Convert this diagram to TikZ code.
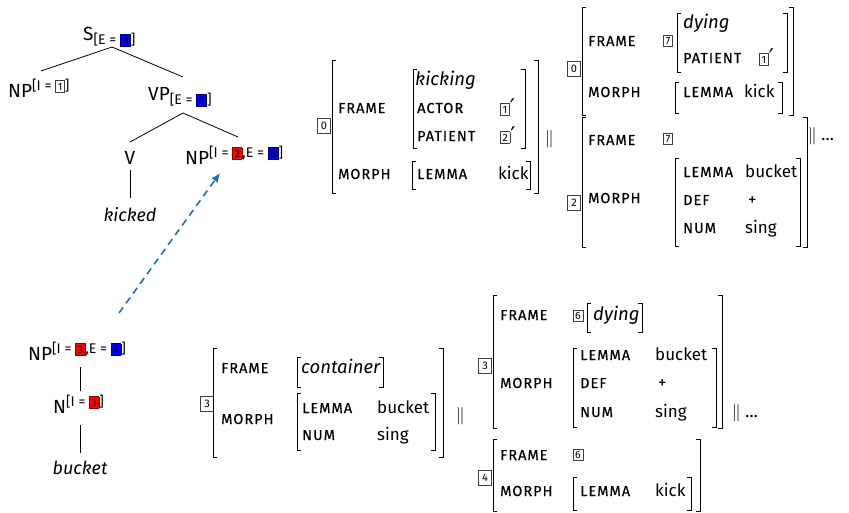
\documentclass[tikz,border=0pt]{standalone}
\usepackage{fontspec}
\setmainfont{Fira Sans}
\newfontfamily\lblfont[LetterSpace=7,FakeBold=0.3]{Fira Sans}
\newfontfamily\symfont{DejaVu Sans}
\usetikzlibrary{arrows.meta}
\setlength\fboxrule{0.7pt}
\newcommand\fs[1]{\fontsize{#1}{#1}\selectfont}
% coindexation tags
\newcommand\tagbx[3]{{\setlength\fboxsep{1.8pt}\fcolorbox{#1}{#2}{\fs{10.5}#3}}}
\newcommand\tg[1]{\tagbx{black!75}{white}{#1}}
\newcommand\rtg[1]{\tagbx{red!55!black}{red}{#1}}
\newcommand\btg[1]{\tagbx{blue!45!black}{blue}{#1}}
\newcommand\prm{\raisebox{-2pt}{\symfont\fs{23}′}}
\newcommand\featsup[1]{\raisebox{7pt}{\fs{14}[#1]}}
\newcommand\featsub[1]{\raisebox{-4pt}{\fs{14}[#1]}}
% AVM brackets: x, top, bottom
\newcommand\lbr[3]{\draw[brk] (#1+4,#2) -- (#1,#2) -- (#1,#3) -- (#1+4,#3);}
\newcommand\rbr[3]{\draw[brk] (#1-4,#2) -- (#1,#2) -- (#1,#3) -- (#1-4,#3);}
\definecolor{arrowblue}{RGB}{30,110,190}
\begin{document}
\begin{tikzpicture}[x=1pt,y=-1pt,
  cat/.style={font=\fs{19}, inner sep=0, anchor=base west},
  catit/.style={font=\fs{18}\itshape, inner sep=0, anchor=base},
  lbl/.style={font=\lblfont\fs{14.5}, inner sep=0, anchor=base west},
  val/.style={font=\fs{17}, inner sep=0, anchor=base west},
  valit/.style={font=\fs{18.5}\itshape, inner sep=0, anchor=base west},
  tagn/.style={draw=black!75, line width=0.7pt, inner sep=0, anchor=center,
    minimum width=12.5pt, minimum height=15pt, font=\fs{11}},
  tagv/.style={inner sep=0, anchor=center},
  brk/.style={line width=0.8pt},
  branch/.style={line width=0.8pt},
  sep/.style={font=\fs{17}, inner sep=0, anchor=base west}]
\useasboundingbox (0,0) rectangle (849,512);

% ---------- tree for "kicked" ----------
\node[cat] (S) at (83,40) {S\featsub{E = \btg{0}}};
\node[cat] (NPa) at (8,97) {NP\featsup{I = \tg{1}}};
\node[cat] (VP) at (148,100) {VP\featsub{E = \btg{0}}};
\node[cat,anchor=base] (V) at (130,164) {V};
\node[cat] (NPb) at (185,164) {NP\featsup{I = \rtg{2},E = \btg{0}}};
\node[catit] (kicked) at (130,221) {kicked};
\coordinate (S-b) at (112,47);
\coordinate (NPa-t) at (41,71);
\coordinate (VP-t) at (183,77);
\coordinate (VP-b) at (183,113);
\coordinate (V-t) at (130,142);
\coordinate (NPb-t) at (238,137);
\coordinate (V-b) at (130,170);
\coordinate (kicked-t) at (130,198);
\draw[branch] (NPa-t) -- (S-b) -- (VP-t);
\draw[branch] (V-t) -- (VP-b) -- (NPb-t);
\draw[branch] (V-b) -- (kicked-t);

% ---------- tree for "bucket" ----------
\node[cat] (NPc) at (28,360) {NP\featsup{I = \rtg{3},E = \btg{4}}};
\node[cat] (N) at (53,413) {N\featsup{I = \rtg{3}}};
\node[catit] (bucket) at (80,474) {bucket};
\coordinate (NPc-b) at (80,367);
\coordinate (N-t) at (80,391);
\coordinate (N-b) at (80,425);
\coordinate (bucket-t) at (80,453);
\draw[branch] (NPc-b) -- (N-t);
\draw[branch] (N-b) -- (bucket-t);

% substitution arrow
\coordinate (sub-from) at (119,313);
\coordinate (sub-to) at (220,173);
\draw[arrowblue, line width=1.6pt, dash pattern=on 7pt off 5pt,
  -{Latex[length=9pt,width=8pt]}] (sub-from) -- (sub-to);

% ---------- AVM: kicking ----------
\node[tagn] (k-tag) at (324,126) {0};
\lbr{332}{60}{193} \rbr{538}{60}{193}
\node[lbl] (k-frame) at (338,113) {FRAME};
\lbr{413}{69}{148} \rbr{525}{69}{148}
\node[valit] (k-type) at (415,85) {kicking};
\node[lbl] (k-actor) at (417,113) {ACTOR};
\node[val] (k-actv) at (500,113) {\tg{1}\prm};
\node[lbl] (k-pat) at (417,141) {PATIENT};
\node[val] (k-patv) at (500,141) {\tg{2}\prm};
\node[lbl] (k-morph) at (338,179) {MORPH};
\lbr{412}{161}{189} \rbr{530}{161}{189}
\node[lbl] (k-lemma) at (417,179) {LEMMA};
\node[val] (k-lemv) at (498,179) {kick};
\node[sep] (k-or) at (545,143) {$\|$};

% ---------- AVM: dying (kick) ----------
\node[tagn] (d-tag) at (574,69) {0};
\lbr{582}{7}{115} \rbr{793}{7}{115}
\node[lbl] (d-frame) at (588,46) {FRAME};
\node[tagv] (d-seven) at (668,41) {\tg{7}};
\lbr{677}{13}{72} \rbr{787}{13}{72}
\node[valit] (d-type) at (683,28) {dying};
\node[lbl] (d-pat) at (683,63) {PATIENT};
\node[val] (d-patv) at (759,63) {\tg{1}\prm};
\node[lbl] (d-morph) at (588,97) {MORPH};
\lbr{675}{82}{113} \rbr{782}{82}{113}
\node[lbl] (d-lemma) at (683,97) {LEMMA};
\node[val] (d-lemv) at (744,97) {kick};

% ---------- AVM: bucket (idiom part) ----------
\node[tagn] (b-tag) at (574,203) {2};
\lbr{582}{117}{247} \rbr{807}{117}{247}
\node[lbl] (b-frame) at (588,145) {FRAME};
\node[tagv] (b-seven) at (668,139) {\tg{7}};
\node[lbl] (b-morph) at (588,203) {MORPH};
\lbr{675}{158}{246} \rbr{800}{158}{246}
\node[lbl] (b-lemma) at (683,177) {LEMMA};
\node[val] (b-lemv) at (745,177) {bucket};
\node[lbl] (b-def) at (683,205) {DEF};
\node[val] (b-defv) at (748,205) {+};
\node[lbl] (b-num) at (683,233) {NUM};
\node[val] (b-numv) at (745,233) {sing};
\node[sep] (b-or) at (808,140) {$\|$ \ldots};

% ---------- AVM: container ----------
\node[tagn] (c-tag) at (207,404) {3};
\lbr{213}{348}{457} \rbr{443}{348}{457}
\node[lbl] (c-frame) at (221,373) {FRAME};
\lbr{297}{357}{387} \rbr{383}{357}{387}
\node[valit] (c-type) at (301,373) {container};
\node[lbl] (c-morph) at (221,424) {MORPH};
\lbr{297}{393}{450} \rbr{435}{393}{450}
\node[lbl] (c-lemma) at (302,413) {LEMMA};
\node[val] (c-lemv) at (377,413) {bucket};
\node[lbl] (c-num) at (302,440) {NUM};
\node[val] (c-numv) at (377,440) {sing};
\node[sep] (c-or) at (456,420) {$\|$};

% ---------- AVM: bucket (dying) ----------
\node[tagn] (e-tag) at (485,366) {3};
\lbr{493}{295}{428} \rbr{722}{295}{428}
\node[lbl] (e-frame) at (500,320) {FRAME};
\node[tagv] (e-six) at (578,316) {\tg{6}};
\lbr{587}{303}{332} \rbr{642}{303}{332}
\node[valit] (e-type) at (593,320) {dying};
\node[lbl] (e-morph) at (500,388) {MORPH};
\lbr{573}{348}{427} \rbr{716}{348}{427}
\node[lbl] (e-lemma) at (580,360) {LEMMA};
\node[val] (e-lemv) at (655,360) {bucket};
\node[lbl] (e-def) at (580,388) {DEF};
\node[val] (e-defv) at (658,388) {+};
\node[lbl] (e-num) at (580,417) {NUM};
\node[val] (e-numv) at (655,417) {sing};
\node[sep] (e-or) at (732,417) {$\|$ \ldots};

% ---------- AVM: kick (for bucket) ----------
\node[tagn] (f-tag) at (485,478) {4};
\lbr{493}{439}{511} \rbr{700}{439}{511}
\node[lbl] (f-frame) at (500,460) {FRAME};
\node[tagv] (f-six) at (578,455) {\tg{6}};
\node[lbl] (f-morph) at (500,496) {MORPH};
\lbr{573}{477}{510} \rbr{691}{477}{510}
\node[lbl] (f-lemma) at (580,496) {LEMMA};
\node[val] (f-lemv) at (655,496) {kick};
\end{tikzpicture}
\end{document}
